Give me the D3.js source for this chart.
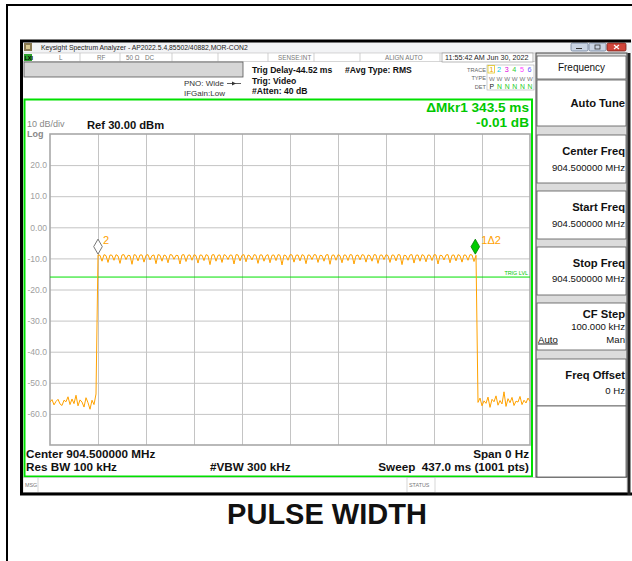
<!DOCTYPE html>
<html>
<head>
<meta charset="utf-8">
<script src="https://cdn.jsdelivr.net/npm/d3@7"></script>
<style>
  body { margin: 0; background: #fff; }
  svg { display: block; }
  text { font-family: "Liberation Sans", Arial, sans-serif; }
</style>
</head>
<body>
<svg id="chart" width="632" height="561"></svg>
<script>
// ---- sweep settings ----
const sweepMs = 437.0;
const refLevel = 30;
const dbPerDiv = 10;
const yDivisions = 10;
const xDivisions = 10;
const yTickValues = [20, 10, 0, -10, -20, -30, -40, -50, -60];
const yTickLabels = ["20.0", "10.0", "0.00", "-10.0", "-20.0", "-30.0", "-40.0", "-50.0", "-60.0"];

// ---- trace 1 (dBm), evenly spaced over the sweep ----
const traceDbm = [
  -56.2, -55.4, -57.1, -56.0, -55.3, -56.8, -57.3, -55.6, -56.1, -54.5,
  -57.0, -55.2, -56.7, -54.0, -57.4, -55.5, -56.2, -57.8, -54.8, -56.4,
  -58.5, -55.6, -57.0, -53.6,
  -8.9, -9.0, -10.9, -8.8, -9.1, -11.3, -8.9, -9.0, -10.6, -8.8,
  -9.2, -11.6, -8.9, -8.8, -10.4, -9.0, -9.1, -11.9, -8.8, -9.0,
  -10.8, -8.9, -8.9, -11.2, -9.0, -8.8, -10.5, -9.1, -8.9, -11.7,
  -8.8, -9.0, -10.9, -8.9, -9.2, -11.4, -8.8, -8.9, -10.3, -9.0,
  -9.1, -11.8, -8.9, -8.8, -11.0, -9.0, -8.9, -10.6, -8.8, -9.1,
  -11.5, -8.9, -9.0, -10.7, -8.8, -9.1, -12.0, -8.9, -8.8, -10.9,
  -9.0, -8.9, -11.3, -8.8, -9.1, -10.4, -8.9, -9.0, -11.8, -8.8,
  -8.9, -10.8, -9.0, -8.8, -11.1, -8.9, -9.2, -10.5, -8.8, -9.0,
  -11.6, -8.9, -8.9, -10.9, -9.1, -8.8, -11.4, -9.0, -8.9, -10.7,
  -8.8, -9.0, -12.1, -8.9, -9.1, -10.6, -8.8, -8.9, -11.2, -9.0,
  -8.9, -10.8, -8.8, -9.1, -11.7, -8.9, -9.0, -10.4, -8.8, -8.9,
  -11.3, -9.0, -9.1, -10.9, -8.9, -8.8, -11.9, -9.0, -8.9, -10.6,
  -8.8, -9.1, -11.4, -8.9, -9.0, -10.7, -8.8, -8.9, -11.8, -9.1,
  -8.9, -10.5, -8.8, -9.0, -11.2, -8.9, -9.1, -10.9, -8.8, -8.9,
  -11.6, -9.0, -8.9, -10.4, -8.8, -9.1, -11.3, -8.9, -9.0, -10.8,
  -8.8, -8.9, -12.0, -9.0, -9.1, -10.6, -8.9, -8.8, -11.5, -9.0,
  -8.9, -10.9, -8.8, -9.1, -11.1, -8.9, -9.0, -10.7, -8.8, -8.9,
  -11.8, -9.0, -9.1, -10.5, -8.9, -8.8, -11.4, -9.0, -8.9, -10.8,
  -8.8, -9.1, -11.2, -8.9, -9.0, -10.6, -8.8, -8.9, -11.0, -9.0,
  -56.3, -54.9, -57.4, -55.8, -56.6, -54.6, -57.9, -55.3, -56.1, -54.2,
  -57.2, -55.7, -56.8, -52.9, -57.6, -55.1, -56.4, -54.7, -57.3, -55.9,
  -56.2, -54.4, -57.0, -55.6, -56.5, -54.9, -56.0
];

// ---- markers and trigger ----
const marker2Ms = 43.7;
const marker2Dbm = -8.95;
const deltaMs = 343.5;
const deltaDb = -0.01;
const trigLevelDbm = -16.0;

// ---- annotation texts ----
const statusCells = [
  { x: 59, t: "L" }, { x: 97, t: "RF" }, { x: 126, t: "50 \u03A9" }, { x: 145, t: "DC" },
  { x: 278, t: "SENSE:INT" }, { x: 385, t: "ALIGN AUTO" }
];
const statusDividers = [80, 120, 172, 218, 268, 314, 360, 440];
const traceColors = ["#f0a000", "#00c8e0", "#e000e0", "#30d030", "#ff40ff", "#6a5cff"];

// ---- soft keys on the right ----
const softKeys = [
  { top: 80, bottom: 126, title: "Auto Tune", titleY: 107 },
  { top: 135, bottom: 183, title: "Center Freq", titleY: 155, value: "904.500000 MHz", valueY: 171 },
  { top: 191, bottom: 239, title: "Start Freq", titleY: 211, value: "904.500000 MHz", valueY: 227 },
  { top: 247, bottom: 295, title: "Stop Freq", titleY: 267, value: "904.500000 MHz", valueY: 282 },
  { top: 303, bottom: 350, title: "CF Step", titleY: 318, value: "100.000 kHz", valueY: 330, auto: true },
  { top: 359, bottom: 406, title: "Freq Offset", titleY: 379, value: "0 Hz", valueY: 394 }
];

const svg = d3.select("#chart");
const GREEN = "#00e000";
const GREEN_TEXT = "#00c800";
const ORANGE = "#ffa200";

// page frame
svg.append("path").attr("d", "M7,561V5H632").attr("fill", "none").attr("stroke", "#000").attr("stroke-width", 2);

// ---- instrument window ----
svg.append("rect").attr("x", 21).attr("y", 40).attr("width", 611).attr("height", 455).attr("fill", "#fff");
// title bar
svg.append("rect").attr("x", 21).attr("y", 41).attr("width", 611).attr("height", 12).attr("fill", "#f2f3f5");
svg.append("rect").attr("x", 24).attr("y", 43).attr("width", 8).attr("height", 8).attr("fill", "#8a7a52");
svg.append("rect").attr("x", 26).attr("y", 45).attr("width", 4).attr("height", 4).attr("fill", "#d8c890");
svg.append("text").attr("x", 41).attr("y", 50).attr("font-size", 6.8).attr("fill", "#222")
  .text("Keysight Spectrum Analyzer - AP2022.5.4,85502/40882,MOR-CON2");
// window buttons
[[571, "#c9d3e2"], [589, "#c9d3e2"]].forEach(([x, c]) => {
  svg.append("rect").attr("x", x).attr("y", 43).attr("width", 17).attr("height", 8).attr("rx", 1.5)
    .attr("fill", c).attr("stroke", "#6d7f99").attr("stroke-width", 0.8);
});
svg.append("rect").attr("x", 607).attr("y", 43).attr("width", 19).attr("height", 8).attr("rx", 1.5)
  .attr("fill", "#d0453a").attr("stroke", "#7a2018").attr("stroke-width", 0.8);
svg.append("line").attr("x1", 576).attr("x2", 582).attr("y1", 48.5).attr("y2", 48.5).attr("stroke", "#333").attr("stroke-width", 1);
svg.append("rect").attr("x", 595).attr("y", 45).attr("width", 5).attr("height", 4).attr("fill", "none").attr("stroke", "#333").attr("stroke-width", 0.8);
svg.append("path").attr("d", "M614,45L619,49M619,45L614,49").attr("stroke", "#fff").attr("stroke-width", 1.2);

// status row
svg.append("rect").attr("x", 23).attr("y", 53).attr("width", 512).attr("height", 8.5).attr("fill", "#fff").attr("stroke", "#bbb").attr("stroke-width", 0.6);
svg.append("rect").attr("x", 24).attr("y", 54).attr("width", 8).attr("height", 7).attr("fill", "#2ca02c");
svg.append("text").attr("x", 24.5).attr("y", 60).attr("font-size", 5.5).attr("font-weight", "bold").attr("fill", "#000").text("LXI");
statusDividers.forEach(x => svg.append("line").attr("x1", x).attr("x2", x).attr("y1", 53).attr("y2", 61.5).attr("stroke", "#bbb").attr("stroke-width", 0.7));
statusCells.forEach(c => svg.append("text").attr("x", c.x).attr("y", 59.6).attr("font-size", 6.3).attr("fill", "#777").text(c.t));
svg.append("rect").attr("x", 442).attr("y", 53).attr("width", 91).attr("height", 9).attr("fill", "#fff").attr("stroke", "#888").attr("stroke-width", 0.6);
svg.append("text").attr("x", 445).attr("y", 60).attr("font-size", 7.2).attr("fill", "#222").text("11:55:42 AM Jun 30, 2022");

// setup rows
svg.append("rect").attr("x", 24).attr("y", 62).attr("width", 219).attr("height", 15).attr("fill", "#d6d6d6").attr("stroke", "#555").attr("stroke-width", 0.8);
const setupText = [
  { x: 252, y: 73, t: "Trig Delay-44.52 ms", b: true },
  { x: 345, y: 73, t: "#Avg Type: RMS", b: true },
  { x: 252, y: 84, t: "Trig: Video", b: true },
  { x: 252, y: 94, t: "#Atten: 40 dB", b: true },
  { x: 184, y: 86, t: "PNO: Wide", b: false },
  { x: 184, y: 96, t: "IFGain:Low", b: false }
];
setupText.forEach(s => svg.append("text").attr("x", s.x).attr("y", s.y).attr("font-size", s.b ? 8.6 : 8)
  .attr("font-weight", s.b ? "bold" : "normal").attr("fill", s.b ? "#111" : "#333").text(s.t));
svg.append("path").attr("d", "M227,83.5H241").attr("stroke", "#333").attr("stroke-width", 0.8);
svg.append("path").attr("d", "M232,81.5L236,83.5L232,85.5Z").attr("fill", "#333");

// trace table
svg.append("rect").attr("x", 487).attr("y", 65).attr("width", 47).attr("height", 25).attr("fill", "none").attr("stroke", "#aaa").attr("stroke-width", 0.6);
[["TRACE", 71.5], ["TYPE", 80], ["DET", 88.5]].forEach(([t, y]) =>
  svg.append("text").attr("x", 486).attr("y", y).attr("text-anchor", "end").attr("font-size", 5.6).attr("fill", "#666").text(t));
svg.append("rect").attr("x", 488).attr("y", 65.5).attr("width", 6.5).attr("height", 7.5).attr("fill", "none").attr("stroke", "#e0c000").attr("stroke-width", 0.7);
traceColors.forEach((c, i) => {
  svg.append("text").attr("x", 489.5 + i * 7.6).attr("y", 72).attr("font-size", 7.2).attr("fill", c).text(String(i + 1));
  svg.append("text").attr("x", 489 + i * 7.6).attr("y", 80.5).attr("font-size", 6.2).attr("fill", "#777").text("W");
  svg.append("text").attr("x", 489.5 + i * 7.6).attr("y", 88.8).attr("font-size", 6.8)
    .attr("fill", i === 0 ? "#111" : "#22cc22").text(i === 0 ? "P" : "N");
});

// ---- measurement area ----
svg.append("rect").attr("x", 24.5).attr("y", 99.5).attr("width", 507.5).attr("height", 377)
  .attr("fill", "#fff").attr("stroke", GREEN).attr("stroke-width", 2);

const x = d3.scaleLinear().domain([0, sweepMs]).range([50, 530]);
const y = d3.scaleLinear().domain([refLevel - dbPerDiv * yDivisions, refLevel]).range([445, 134]);

// graticule
const xGrid = d3.axisBottom(x).tickValues(d3.range(1, xDivisions).map(i => i * sweepMs / xDivisions))
  .tickSize(-(445 - 134)).tickFormat("");
const gx = svg.append("g").attr("transform", "translate(0,445)").call(xGrid);
const yGrid = d3.axisLeft(y).tickValues(d3.range(1, yDivisions).map(i => refLevel - i * dbPerDiv))
  .tickSize(-(530 - 50)).tickFormat("");
const gy = svg.append("g").attr("transform", "translate(50,0)").call(yGrid);
[gx, gy].forEach(g => {
  g.select(".domain").remove();
  g.selectAll("line").attr("stroke", "#c4c4c4").attr("stroke-width", 1);
});
svg.append("rect").attr("x", 50).attr("y", 134).attr("width", 480).attr("height", 311)
  .attr("fill", "none").attr("stroke", "#a8a8a8").attr("stroke-width", 1.6);

// amplitude labels
const yLabels = d3.axisLeft(y).tickValues(yTickValues).tickSize(0).tickPadding(3)
  .tickFormat((d, i) => yTickLabels[i]);
const gl = svg.append("g").attr("transform", "translate(50,0)").call(yLabels);
gl.select(".domain").remove();
gl.selectAll("text").attr("font-size", 8.6).attr("fill", "#a0a0a0")
  .attr("font-family", "'Liberation Sans', Arial, sans-serif");

// scale / ref annotations
svg.append("text").attr("x", 27).attr("y", 127).attr("font-size", 9).attr("fill", "#888").text("10 dB/div");
svg.append("text").attr("x", 27).attr("y", 136.5).attr("font-size", 9).attr("font-weight", "bold").attr("fill", "#888").text("Log");
svg.append("text").attr("x", 87).attr("y", 129).attr("font-size", 11.2).attr("font-weight", "bold").attr("fill", "#111").text("Ref 30.00 dBm");

// trigger level
svg.append("line").attr("x1", 50).attr("x2", 530).attr("y1", y(trigLevelDbm)).attr("y2", y(trigLevelDbm))
  .attr("stroke", GREEN).attr("stroke-width", 1);
svg.append("text").attr("x", 528).attr("y", y(trigLevelDbm) - 2).attr("text-anchor", "end")
  .attr("font-size", 5.4).attr("fill", GREEN_TEXT).text("TRIG LVL");

// trace
const step = sweepMs / (traceDbm.length - 1);
const line = d3.line().x((d, i) => x(i * step)).y(d => y(d));
svg.append("path").datum(traceDbm).attr("d", line).attr("fill", "none")
  .attr("stroke", ORANGE).attr("stroke-width", 1).attr("stroke-linejoin", "miter");

// markers
const marker1Ms = marker2Ms + deltaMs;
const marker1Dbm = marker2Dbm + deltaDb;
function diamond(cx, tipY) {
  const h = 7.5, w = 4.3;
  return `M${cx},${tipY}L${cx - w},${tipY - h}L${cx},${tipY - 2 * h}L${cx + w},${tipY - h}Z`;
}
svg.append("path").attr("d", diamond(x(marker2Ms), y(marker2Dbm) - 1))
  .attr("fill", "#fff").attr("stroke", "#777").attr("stroke-width", 1);
svg.append("text").attr("x", x(marker2Ms) + 5).attr("y", y(marker2Dbm) - 11)
  .attr("font-size", 11).attr("fill", ORANGE).text("2");
svg.append("path").attr("d", diamond(x(marker1Ms), y(marker1Dbm) - 1))
  .attr("fill", "#00cc00").attr("stroke", "#007a00").attr("stroke-width", 0.8);
svg.append("text").attr("x", x(marker1Ms) + 6).attr("y", y(marker1Dbm) - 11)
  .attr("font-size", 11).attr("fill", ORANGE).text("1\u03942");

// delta marker readout
svg.append("text").attr("x", 529).attr("y", 112).attr("text-anchor", "end").attr("font-size", 13.6)
  .attr("font-weight", "bold").attr("fill", GREEN_TEXT).text(`\u0394Mkr1 ${deltaMs.toFixed(1)} ms`);
svg.append("text").attr("x", 529).attr("y", 127).attr("text-anchor", "end").attr("font-size", 13.6)
  .attr("font-weight", "bold").attr("fill", GREEN_TEXT).text(`${deltaDb.toFixed(2)} dB`);

// bottom annotations
const footer = [
  { x: 26, y: 458, t: "Center 904.500000 MHz", a: "start" },
  { x: 26, y: 470.5, t: "Res BW 100 kHz", a: "start" },
  { x: 210, y: 470.5, t: "#VBW 300 kHz", a: "start" },
  { x: 529, y: 458, t: "Span 0 Hz", a: "end" },
  { x: 529, y: 470.5, t: "Sweep  437.0 ms (1001 pts)", a: "end" }
];
footer.forEach(f => svg.append("text").attr("x", f.x).attr("y", f.y).attr("text-anchor", f.a)
  .attr("font-size", 11.7).attr("font-weight", "bold").attr("fill", "#111")
  .style("white-space", "pre").text(f.t));

// message bar
svg.append("rect").attr("x", 23).attr("y", 477.5).attr("width", 604).attr("height", 15).attr("fill", "#fff")
  .attr("stroke", "#bbb").attr("stroke-width", 0.6);
svg.append("line").attr("x1", 38).attr("x2", 38).attr("y1", 478).attr("y2", 492).attr("stroke", "#bbb").attr("stroke-width", 0.6);
svg.append("rect").attr("x", 407).attr("y", 477.5).attr("width", 28).attr("height", 15).attr("fill", "none")
  .attr("stroke", "#bbb").attr("stroke-width", 0.6);
svg.append("text").attr("x", 25).attr("y", 487).attr("font-size", 5.4).attr("fill", "#777").text("MSG");
svg.append("text").attr("x", 409).attr("y", 487).attr("font-size", 5.4).attr("fill", "#777").text("STATUS");

// ---- soft key panel ----
svg.append("rect").attr("x", 536).attr("y", 53).attr("width", 91).attr("height", 424).attr("fill", "#dcdcdc")
  .attr("stroke", "#444").attr("stroke-width", 1);
svg.append("rect").attr("x", 537).attr("y", 56).attr("width", 89).attr("height", 23).attr("fill", "#fff")
  .attr("stroke", "#555").attr("stroke-width", 0.8);
svg.append("text").attr("x", 581.5).attr("y", 70.5).attr("text-anchor", "middle").attr("font-size", 10).attr("fill", "#111").text("Frequency");
softKeys.forEach(k => {
  svg.append("rect").attr("x", 537).attr("y", k.top).attr("width", 89).attr("height", k.bottom - k.top)
    .attr("fill", "#fff").attr("stroke", "#555").attr("stroke-width", 0.8);
  svg.append("text").attr("x", 625).attr("y", k.titleY).attr("text-anchor", "end").attr("font-size", 11.2)
    .attr("font-weight", "bold").attr("fill", "#111").text(k.title);
  if (k.value) {
    svg.append("text").attr("x", 625).attr("y", k.valueY).attr("text-anchor", "end").attr("font-size", 9.6)
      .attr("fill", "#111").text(k.value);
  }
  if (k.auto) {
    svg.append("text").attr("x", 538).attr("y", 342.5).attr("font-size", 9.6).attr("fill", "#111")
      .attr("text-decoration", "underline").text("Auto");
    svg.append("text").attr("x", 625).attr("y", 342.5).attr("text-anchor", "end").attr("font-size", 9.6)
      .attr("fill", "#111").text("Man");
  }
});
svg.append("rect").attr("x", 537).attr("y", 406).attr("width", 89).attr("height", 71).attr("fill", "#fff")
  .attr("stroke", "#555").attr("stroke-width", 0.8);

// window frame
svg.append("path").attr("d", "M21.5,495V41H631").attr("fill", "none").attr("stroke", "#000").attr("stroke-width", 3);
svg.append("line").attr("x1", 20).attr("x2", 632).attr("y1", 494).attr("y2", 494).attr("stroke", "#000").attr("stroke-width", 3);
svg.append("line").attr("x1", 629).attr("x2", 629).attr("y1", 53).attr("y2", 495).attr("stroke", "#222").attr("stroke-width", 3);

// caption
svg.append("text").attr("x", 327).attr("y", 524).attr("text-anchor", "middle").attr("font-size", 29)
  .attr("font-weight", "bold").attr("fill", "#111").text("PULSE WIDTH");
</script>
</body>
</html>
